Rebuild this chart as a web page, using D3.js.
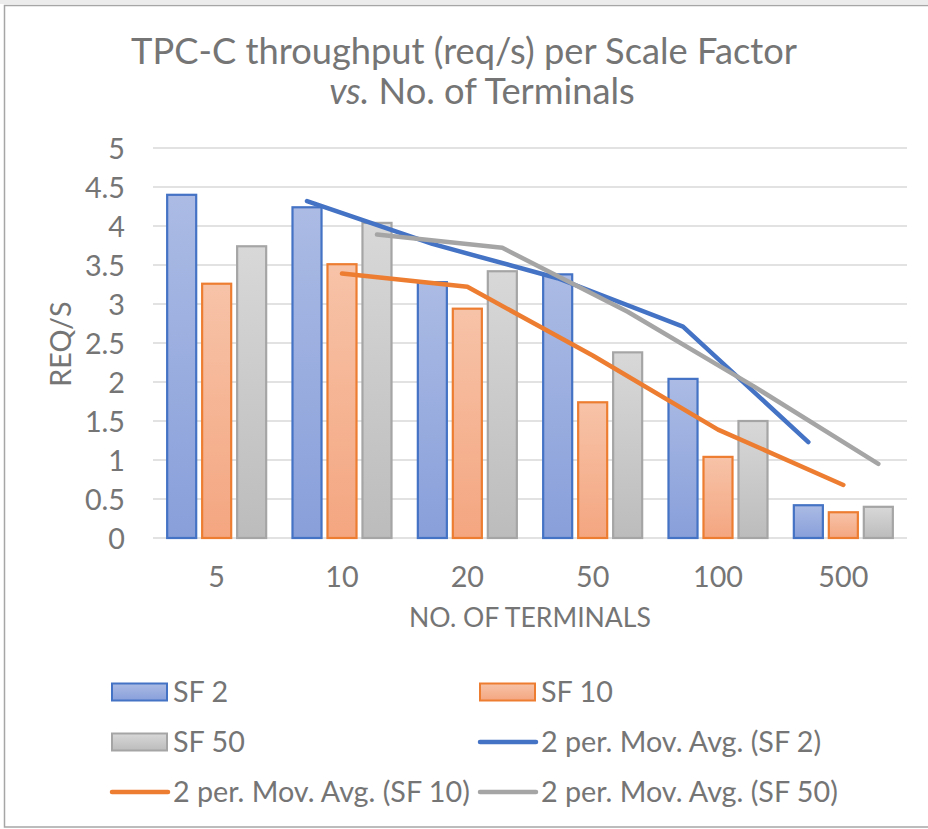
<!DOCTYPE html>
<html>
<head>
<meta charset="utf-8">
<script src="https://cdn.jsdelivr.net/npm/d3@7"></script>
<style>
  body { margin: 0; background: #fff; }
  svg text { font-family: Lato, "Open Sans", sans-serif; fill: #757575; }
</style>
</head>
<body>
<svg id="chart" width="928" height="829"></svg>
<script>
// data
var categories = ['5', '10', '20', '50', '100', '500'];
var seriesNames = ['SF 2', 'SF 10', 'SF 50'];
var sf2 = [4.40, 4.24, 3.28, 3.38, 2.04, 0.42];
var sf10 = [3.26, 3.51, 2.94, 1.74, 1.04, 0.33];
var sf50 = [3.74, 4.04, 3.42, 2.38, 1.50, 0.40];
// 2 period moving averages, one point per category from '10' on
var maSf2 = [4.32, 3.77, 3.33, 2.71, 1.23];
var maSf10 = [3.39, 3.22, 2.34, 1.39, 0.68];
var maSf50 = [3.89, 3.72, 2.90, 1.95, 0.95];
var yTicks = [0, 0.5, 1, 1.5, 2, 2.5, 3, 3.5, 4, 4.5, 5];

var barSeries = [sf2, sf10, sf50];
var maSeries = [maSf2, maSf10, maSf50];
var strokeCols = ['#4472c4', '#ed7d31', '#a5a5a5'];
var gradTop = ['#abbbe4', '#f7c3a8', '#d8d8d8'];
var gradBot = ['#889fda', '#f4a680', '#bcbcbc'];

var svg = d3.select('#chart');

// frame
svg.append('rect').attr('x', 0).attr('y', 0).attr('width', 928).attr('height', 4).attr('fill', '#ececec');
svg.append('rect').attr('x', 4.5).attr('y', 5.5).attr('width', 940).attr('height', 821.5)
  .attr('fill', 'none').attr('stroke', '#a6a6a6').attr('stroke-width', 1.5);

var defs = svg.append('defs');
seriesNames.forEach(function (s, i) {
  var g = defs.append('linearGradient').attr('id', 'grad' + i)
    .attr('x1', '0%').attr('x2', '0%').attr('y1', '0%').attr('y2', '100%');
  g.append('stop').attr('offset', '0%').style('stop-color', gradTop[i]);
  g.append('stop').attr('offset', '100%').style('stop-color', gradBot[i]);
});

var x0 = d3.scaleBand().domain(categories).range([154, 906]).paddingInner(0.21).paddingOuter(0.105);
var x1 = d3.scaleBand().domain(d3.range(3)).range([0, x0.bandwidth()]).paddingInner(0.17);
var y = d3.scaleLinear().domain([0, 5]).range([538, 148]);

function fit(sel, target) {
  var w = sel.node().getComputedTextLength();
  var fs = parseFloat(sel.attr('font-size'));
  sel.attr('font-size', fs * target / w);
  return fs * target / w;
}

// title
var t1 = svg.append('text').attr('x', 464).attr('y', 64).attr('text-anchor', 'middle')
  .attr('font-size', 32).text('TPC-C throughput (req/s) per Scale Factor');
var tfs = fit(t1, 666);
var t2 = svg.append('text').attr('x', 482).attr('y', 104).attr('text-anchor', 'middle').attr('font-size', tfs);
t2.append('tspan').attr('font-style', 'italic').text('vs.');
t2.append('tspan').text(' No. of Terminals');

// gridlines
svg.append('g').selectAll('line').data(yTicks).enter().append('line')
  .attr('x1', 153).attr('x2', 907)
  .attr('y1', function (d) { return y(d); }).attr('y2', function (d) { return y(d); })
  .attr('stroke', '#d9d9d9').attr('stroke-width', 1.5);

// y axis labels
var yAxis = svg.append('g').attr('transform', 'translate(125,0)')
  .call(d3.axisLeft(y).tickValues(yTicks).tickSize(0).tickPadding(0).tickFormat(d3.format('')));
yAxis.select('.domain').remove();
yAxis.selectAll('text').attr('font-size', 24).attr('font-family', null).attr('fill', null).attr('dy', '0.35em');

// x axis labels
var xAxis = svg.append('g').attr('transform', 'translate(0,538)')
  .call(d3.axisBottom(x0).tickSize(0).tickPadding(0));
xAxis.select('.domain').remove();
xAxis.selectAll('text').attr('font-size', 24).attr('font-family', null).attr('fill', null)
  .attr('y', 39).attr('dy', '0.35em');

// axis titles
var xt = svg.append('text').attr('x', 530).attr('y', 618).attr('dy', '0.35em')
  .attr('text-anchor', 'middle').attr('font-size', 24).text('NO. OF TERMINALS');
fit(xt, 242);
svg.append('text').attr('transform', 'translate(61,344) rotate(-90)').attr('dy', '0.35em')
  .attr('text-anchor', 'middle').attr('font-size', 24).text('REQ/S');

// bars
var groups = svg.append('g').selectAll('g').data(categories).enter().append('g')
  .attr('transform', function (d) { return 'translate(' + x0(d) + ',0)'; });
groups.selectAll('rect').data(function (d, ci) {
  return barSeries.map(function (s, si) { return { si: si, v: s[ci] }; });
}).enter().append('rect')
  .attr('x', function (d) { return x1(d.si); })
  .attr('width', x1.bandwidth())
  .attr('y', function (d) { return y(d.v); })
  .attr('height', function (d) { return y(0) - y(d.v); })
  .attr('fill', function (d) { return 'url(#grad' + d.si + ')'; })
  .attr('stroke', function (d) { return strokeCols[d.si]; })
  .attr('stroke-width', 2.2);

// moving average lines
var maCats = categories.slice(1);
maSeries.forEach(function (s, si) {
  var line = d3.line()
    .x(function (d, i) { return x0(maCats[i]) + x1(si) + x1.bandwidth() / 2; })
    .y(function (d) { return y(d); });
  svg.append('path').datum(s).attr('d', line)
    .attr('fill', 'none').attr('stroke', strokeCols[si]).attr('stroke-width', 4.5)
    .attr('stroke-linecap', 'round').attr('stroke-linejoin', 'round');
});

// legend
var legendItems = [
  { label: 'SF 2', kind: 'bar', si: 0, col: 0, row: 0 },
  { label: 'SF 10', kind: 'bar', si: 1, col: 1, row: 0 },
  { label: 'SF 50', kind: 'bar', si: 2, col: 0, row: 1 },
  { label: '2 per. Mov. Avg. (SF 2)', kind: 'line', si: 0, col: 1, row: 1 },
  { label: '2 per. Mov. Avg. (SF 10)', kind: 'line', si: 1, col: 0, row: 2 },
  { label: '2 per. Mov. Avg. (SF 50)', kind: 'line', si: 2, col: 1, row: 2 }
];
var colX = [112, 480];
var rowY = [692, 742, 792];
var lg = svg.append('g').selectAll('g').data(legendItems).enter().append('g')
  .attr('transform', function (d) { return 'translate(' + colX[d.col] + ',' + rowY[d.row] + ')'; });
lg.filter(function (d) { return d.kind === 'bar'; }).append('rect')
  .attr('x', 0).attr('y', -8.5).attr('width', 55).attr('height', 17)
  .attr('fill', function (d) { return 'url(#grad' + d.si + ')'; })
  .attr('stroke', function (d) { return strokeCols[d.si]; }).attr('stroke-width', 2);
lg.filter(function (d) { return d.kind === 'line'; }).append('line')
  .attr('x1', 0).attr('x2', 56).attr('y1', 0).attr('y2', 0)
  .attr('stroke', function (d) { return strokeCols[d.si]; }).attr('stroke-width', 4.5)
  .attr('stroke-linecap', 'round');
var lt = lg.append('text').attr('x', 61).attr('dy', '0.35em').attr('font-size', 24)
  .text(function (d) { return d.label; });
// size legend font so the long label matches the picture
var probe = lt.filter(function (d) { return d.label === '2 per. Mov. Avg. (SF 10)'; });
var fs = fit(probe, 297);
lt.attr('font-size', fs);
yAxis.selectAll('text').attr('font-size', fs);
xAxis.selectAll('text').attr('font-size', fs);
svg.selectAll('text').filter(function () { return this.textContent === 'REQ/S'; }).attr('font-size', fs);
</script>
</body>
</html>
